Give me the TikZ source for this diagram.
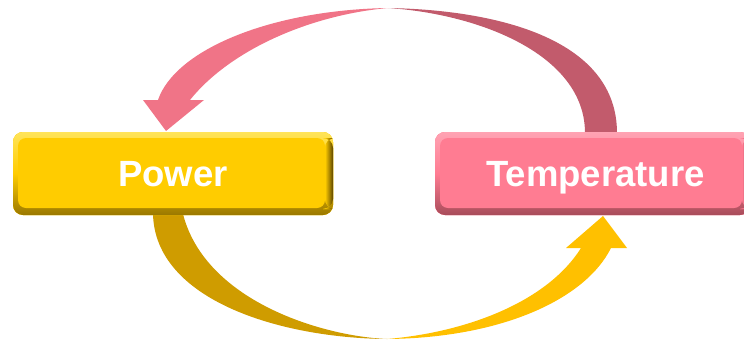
\documentclass[tikz,border=0pt]{standalone}
\usepackage{fontspec}
\setmainfont{Liberation Sans}
\usetikzlibrary{calc}
\definecolor{pwbase}{HTML}{FFCC00}
\definecolor{pwlight}{HTML}{FFE45A}
\definecolor{pwdark}{HTML}{9A7800}
\definecolor{pwedge}{HTML}{5C4500}
\definecolor{tpbase}{HTML}{FF7C92}
\definecolor{tplight}{HTML}{FFA3B3}
\definecolor{tpdark}{HTML}{A84C5A}
\definecolor{tpedge}{HTML}{8A3B47}
\definecolor{arrpinkL}{HTML}{F07487}
\definecolor{arrpinkR}{HTML}{C25B6C}
\definecolor{arrgoldL}{HTML}{CF9C00}
\definecolor{arrgoldR}{HTML}{FFC000}
\tikzset{
  bevelbox/.style n args={4}{
    rectangle, rounded corners=10pt, fill=#1, inner sep=0pt,
    text=white, font=\bfseries\fontsize{36.5}{40}\selectfont,
    text height=26pt, text depth=0pt,
    path picture={
      \fill[top color=#2, bottom color=#3, middle color=#1]
        (path picture bounding box.south west) rectangle (path picture bounding box.north east);
      \fill[left color=#1, right color=#4]
        ([xshift=-8pt,yshift=6pt]path picture bounding box.south east) rectangle ([yshift=-6pt]path picture bounding box.north east);
      \fill[#1, rounded corners=8pt]
        ([xshift=5pt,yshift=7pt]path picture bounding box.south west) rectangle ([xshift=-8pt,yshift=-6pt]path picture bounding box.north east);
    }
  }
}
\begin{document}
\begin{tikzpicture}[x=1pt,y=-1pt]
\useasboundingbox (0,0) rectangle (744,343);
\begin{scope}
\clip (0,0) rectangle (744,343);
% key points of the two curved arrows
\coordinate (topmid) at (388,8);
\coordinate (toptip) at (166,131);
\coordinate (botmid) at (387,339);
\coordinate (bottip) at (603,216);
% top arrow (Temperature -> Power)
\fill[arrpinkR] (topmid) .. controls (500,10) and (617,40) .. (617,133)
  -- (585,133) .. controls (585,55) and (480,14) .. (topmid) -- cycle;
\fill[arrpinkL] (topmid) .. controls (270,10) and (175,50) .. (158,100)
  -- (143,100) -- (toptip) -- (204,100) -- (190,100)
  .. controls (230,50) and (310,15) .. (topmid) -- cycle;
% bottom arrow (Power -> Temperature)
\fill[arrgoldL] (153,214) .. controls (155,300) and (280,338) .. (botmid)
  .. controls (320,336) and (205,300) .. (183,214) -- cycle;
\fill[arrgoldR] (botmid) .. controls (500,338) and (585,300) .. (611,248)
  -- (627,248) -- (bottip) -- (566,248) -- (581,248)
  .. controls (545,305) and (460,333) .. (botmid) -- cycle;
% boxes
\node[bevelbox={pwbase}{pwlight}{pwdark}{pwedge}, minimum width=320pt, minimum height=83pt]
  (P) at (173,173.5) {Power};
\node[bevelbox={tpbase}{tplight}{tpdark}{tpedge}, minimum width=315pt, minimum height=83pt]
  (T) at (592.5,173.5) {\hspace*{6pt}Temperature};
\end{scope}
\end{tikzpicture}
\end{document}
